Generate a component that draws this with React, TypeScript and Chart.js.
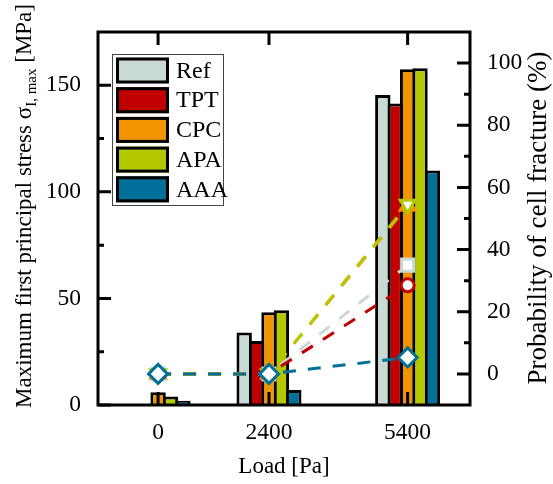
import React, { useEffect, useRef } from 'react';
import { Chart, registerables } from 'chart.js';

Chart.register(...registerables);

// ---------- data ----------
const loads = [0, 2400, 5400];
const seriesNames = ['Ref', 'TPT', 'CPC', 'APA', 'AAA'];
const seriesColors = ['#C9D9D4', '#C00000', '#F29400', '#B4C800', '#00709A'];

// maximum first principal stress [MPa]
const stressRef = [0, 34, 145.5];
const stressTPT = [0, 30, 141.5];
const stressCPC = [6, 43.5, 157.5];
const stressAPA = [4, 44.5, 158];
const stressAAA = [2, 7, 110];

// probability of cell fracture [%]
const probRef = [0, 0, 35];
const probTPT = [0, 0, 28.5];
const probCPC = [0, 0, 54];
const probAPA = [0, 0, 54.5];
const probAAA = [0, 0, 5.3];

const stressTicks = [0, 50, 100, 150];
const stressMinorTicks = [25, 75, 125];
const probTicks = [0, 20, 40, 60, 80, 100];
const probMinorTicks = [10, 30, 50, 70, 90];

const stressSeries = [stressRef, stressTPT, stressCPC, stressAPA, stressAAA];
const probSeries = [probRef, probTPT, probCPC, probAPA, probAAA];

const pointStyles = ['rect', 'circle', 'triangle', 'triangle', 'rectRot'];
const pointRotations = [0, 0, 0, 180, 0];
const pointRadii = [8.5, 6.5, 8.5, 8.5, 9.5];
const lineOrders = [5, 4, 3, 2, 1];

const FONT = "'Liberation Serif', 'Times New Roman', serif";

const framePlugin = {
  id: 'frame',
  afterDraw(chart: any) {
    const { ctx, chartArea: a, scales } = chart;
    const xs = scales.x;
    const yl = scales.y;
    const yr = scales.y2;
    ctx.save();
    ctx.strokeStyle = '#000';
    ctx.lineWidth = 3;
    ctx.lineCap = 'butt';
    ctx.beginPath();
    loads.forEach((v) => {
      const px = xs.getPixelForValue(v);
      ctx.moveTo(px, a.bottom);
      ctx.lineTo(px, a.bottom - 13);
      ctx.moveTo(px, a.top);
      ctx.lineTo(px, a.top + 13);
    });
    stressTicks.forEach((v) => {
      const py = yl.getPixelForValue(v);
      ctx.moveTo(a.left, py);
      ctx.lineTo(a.left + 13, py);
    });
    stressMinorTicks.forEach((v) => {
      const py = yl.getPixelForValue(v);
      ctx.moveTo(a.left, py);
      ctx.lineTo(a.left + 6, py);
    });
    probTicks.forEach((v) => {
      const py = yr.getPixelForValue(v);
      ctx.moveTo(a.right, py);
      ctx.lineTo(a.right - 13, py);
    });
    probMinorTicks.forEach((v) => {
      const py = yr.getPixelForValue(v);
      ctx.moveTo(a.right, py);
      ctx.lineTo(a.right - 6, py);
    });
    ctx.stroke();
    ctx.strokeRect(a.left, a.top, a.right - a.left, a.bottom - a.top);

    // legend
    const bx = a.left + 14;
    const by = a.top + 22;
    const bw = 112;
    const bh = 152;
    ctx.fillStyle = '#fff';
    ctx.fillRect(bx, by, bw, bh);
    ctx.lineWidth = 1;
    ctx.strokeStyle = '#444';
    ctx.strokeRect(bx + 0.5, by + 0.5, bw - 1, bh - 1);
    ctx.font = `24px ${FONT}`;
    ctx.textAlign = 'left';
    ctx.textBaseline = 'middle';
    seriesNames.forEach((name, i) => {
      const sx = bx + 4;
      const sy = by + 3.5 + i * 29.7;
      ctx.fillStyle = seriesColors[i];
      ctx.fillRect(sx, sy, 53, 26);
      ctx.lineWidth = 3;
      ctx.strokeStyle = '#000';
      ctx.strokeRect(sx + 1.5, sy + 1.5, 50, 23);
      ctx.fillStyle = '#000';
      ctx.fillText(name, bx + 64, sy + 14);
    });

    // axis titles
    ctx.fillStyle = '#000';
    ctx.textBaseline = 'alphabetic';
    // left title with subscript
    const p1 = 'Maximum first principal stress σ';
    const p2 = 'I, max';
    const p3 = ' [MPa]';
    const f1 = `23px ${FONT}`;
    const f2 = `15px ${FONT}`;
    ctx.font = f1;
    const w1 = ctx.measureText(p1).width;
    const w3 = ctx.measureText(p3).width;
    ctx.font = f2;
    const w2 = ctx.measureText(p2).width;
    const total = w1 + w2 + w3;
    ctx.save();
    ctx.translate(31, 206);
    ctx.rotate(-Math.PI / 2);
    const sx0 = -total / 2;
    ctx.font = f1;
    ctx.fillText(p1, sx0, 0);
    ctx.font = f2;
    ctx.fillText(p2, sx0 + w1, 5);
    ctx.font = f1;
    ctx.fillText(p3, sx0 + w1 + w2, 0);
    ctx.restore();

    // right title
    ctx.save();
    ctx.translate(546, 218);
    ctx.rotate(-Math.PI / 2);
    ctx.font = `27px ${FONT}`;
    ctx.textAlign = 'center';
    ctx.fillText('Probability of cell fracture (%)', 0, 0);
    ctx.restore();

    // x title
    ctx.font = `23px ${FONT}`;
    ctx.textAlign = 'center';
    ctx.textBaseline = 'middle';
    ctx.fillText('Load [Pa]', (a.left + a.right) / 2, 467);
    ctx.restore();
  },
};

export default function App() {
  const canvasRef = useRef<HTMLCanvasElement | null>(null);

  useEffect(() => {
    const canvas = canvasRef.current;
    if (!canvas) return;
    Chart.defaults.font.family = FONT;
    Chart.defaults.color = '#000';

    const barSets = seriesNames.map((name, i) => ({
      type: 'bar' as const,
      label: name,
      data: loads.map((l, k) => ({ x: l, y: stressSeries[i][k] })),
      backgroundColor: seriesColors[i],
      borderColor: '#000',
      borderWidth: 3,
      categoryPercentage: 0.559,
      barPercentage: 1.242,
      xAxisID: 'x',
      yAxisID: 'y',
      order: 10,
    }));

    const lineSets = seriesNames.map((name, i) => ({
      type: 'line' as const,
      label: name + ' probability',
      data: loads.map((l, k) => ({ x: l, y: probSeries[i][k] })),
      borderColor: seriesColors[i],
      borderWidth: 3,
      borderDash: [13, 12],
      fill: false,
      tension: 0,
      pointStyle: pointStyles[i],
      pointRotation: pointRotations[i],
      pointRadius: pointRadii[i],
      pointBorderWidth: 3,
      pointBorderColor: seriesColors[i],
      pointBackgroundColor: '#fff',
      xAxisID: 'x',
      yAxisID: 'y2',
      order: lineOrders[i],
    }));

    const tickFont = { size: 23.5, family: FONT };

    const chart = new Chart(canvas, {
      type: 'bar',
      data: { datasets: [...barSets, ...lineSets] as any },
      options: {
        responsive: false,
        animation: false,
        devicePixelRatio: 1,
        layout: { padding: { top: 32, left: 0, right: 0, bottom: 0 } },
        plugins: { legend: { display: false }, tooltip: { enabled: false } },
        scales: {
          x: {
            type: 'linear',
            position: 'bottom',
            min: -1300,
            max: 6750,
            offset: false,
            grid: { display: false, drawTicks: false },
            border: { display: false },
            afterBuildTicks: (s: any) => {
              s.ticks = loads.map((v) => ({ value: v }));
            },
            afterFit: (s: any) => {
              s.height = 79;
            },
            ticks: {
              padding: 14,
              font: tickFont,
              color: '#000',
              maxRotation: 0,
              autoSkip: false,
              callback: (v: any) => String(v),
            },
          },
          y: {
            type: 'linear',
            position: 'left',
            min: 0,
            max: 175,
            grid: { display: false, drawTicks: false },
            border: { display: false },
            afterBuildTicks: (s: any) => {
              s.ticks = stressTicks.map((v) => ({ value: v }));
            },
            afterFit: (s: any) => {
              s.width = 98;
            },
            ticks: {
              padding: 17,
              font: tickFont,
              color: '#000',
              callback: (v: any) => String(v),
            },
          },
          y2: {
            type: 'linear',
            position: 'right',
            min: -10,
            max: 110,
            grid: { display: false, drawTicks: false },
            border: { display: false },
            afterBuildTicks: (s: any) => {
              s.ticks = probTicks.map((v) => ({ value: v }));
            },
            afterFit: (s: any) => {
              s.width = 83;
            },
            ticks: {
              padding: 17,
              font: tickFont,
              color: '#000',
              callback: (v: any) => String(v),
            },
          },
        },
      } as any,
      plugins: [framePlugin],
    });
    return () => chart.destroy();
  }, []);

  return (
    <div style={{ position: 'fixed', left: 0, top: 0, width: 553, height: 484, background: '#fff' }}>
      <canvas ref={canvasRef} width={553} height={484} style={{ display: 'block', width: 553, height: 484 }} />
    </div>
  );
}
